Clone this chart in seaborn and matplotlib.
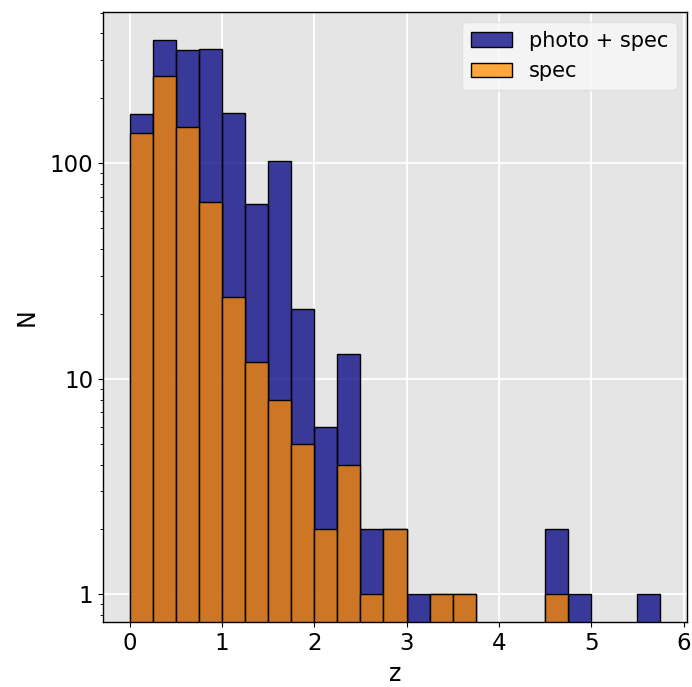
import numpy as np
import pandas as pd
import matplotlib
matplotlib.use("Agg")
import matplotlib.pyplot as plt
import seaborn as sns

bin_edges = [0.0, 0.25, 0.5, 0.75, 1.0, 1.25, 1.5, 1.75, 2.0, 2.25, 2.5, 2.75,
             3.0, 3.25, 3.5, 3.75, 4.0, 4.25, 4.5, 4.75, 5.0, 5.25, 5.5, 5.75]
photo_spec = [170, 372, 334, 338, 171, 65, 102, 21, 6, 13, 2, 2,
              1, 1, 1, 0, 0, 0, 2, 1, 0, 0, 1]
spec = [138, 253, 148, 66, 24, 12, 8, 5, 2, 4, 1, 2,
        0, 1, 1, 0, 0, 0, 1, 0, 0, 0, 0]

centers = [(a + b) / 2 for a, b in zip(bin_edges[:-1], bin_edges[1:])]
df_all = pd.DataFrame({"z": centers, "w": photo_spec})
df_spec = pd.DataFrame({"z": centers, "w": spec})

fig = plt.figure(figsize=(6.92, 6.87), dpi=100)
ax = fig.add_axes([103/692, 1 - 622/687, (687-103)/692, (622-12)/687])
ax.set_facecolor("#e5e5e5")
ax.set_axisbelow(True)
ax.grid(True, which="major", color="white", linewidth=1.3)

sns.histplot(data=df_all, x="z", weights="w", bins=bin_edges, color="navy",
             alpha=0.75, edgecolor="black", linewidth=1, ax=ax, label="photo + spec")
sns.histplot(data=df_spec, x="z", weights="w", bins=bin_edges, color="darkorange",
             alpha=0.75, edgecolor="black", linewidth=1, ax=ax, label="spec")

ax.set_yscale("log")
ax.set_ylim(0.744, 503)
ax.set_xlim(-0.2875, 6.0375)
ax.set_yticks([1, 10, 100])
ax.set_yticklabels(["1", "10", "100"])
ax.set_xticks([0, 1, 2, 3, 4, 5, 6])
ax.tick_params(labelsize=16.5)
ax.set_xlabel("z", fontsize=17, labelpad=5)
ax.set_ylabel("N", fontsize=17, labelpad=8)
for s in ax.spines.values():
    s.set_color("black")
    s.set_linewidth(1)

ax.legend(loc="upper right", fontsize=15, facecolor="#f8f8f8", framealpha=0.8,
          edgecolor="#dddddd")

fig.savefig("out.png", dpi=100)
